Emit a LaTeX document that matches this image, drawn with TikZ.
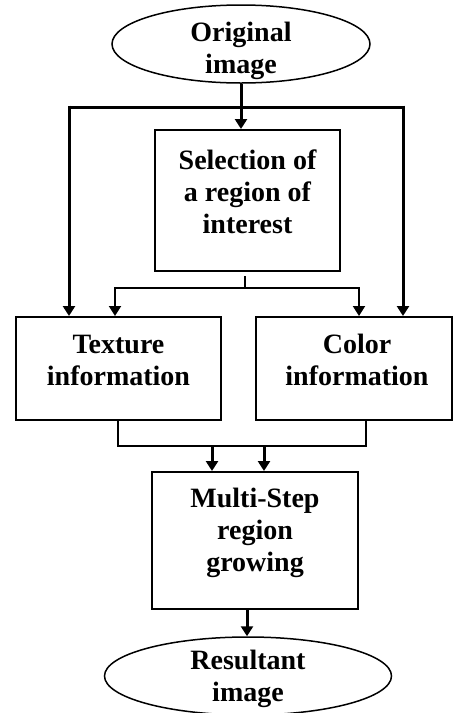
\documentclass[tikz,border=0pt]{standalone}
\usepackage{fontspec}
\setmainfont{Liberation Serif}
\usetikzlibrary{shapes.geometric,arrows.meta,calc}
\begin{document}
\begin{tikzpicture}[x=1pt,y=-1pt,
  txt/.style={font=\fontsize{28}{32}\selectfont\bfseries, align=center, inner sep=0pt},
  box/.style={draw, line width=2pt, rectangle, inner sep=0pt},
  oval/.style={draw, line width=1.5pt, ellipse, inner sep=0pt},
  thickarr/.style={line width=3pt, -{Triangle[width=12pt,length=10pt]}},
  thinarr/.style={line width=2pt, -{Triangle[width=12pt,length=10pt]}},
  conn/.style={line width=2pt},
  stem/.style={line width=1.5pt}]
\useasboundingbox (0,0) rectangle (453,713);

\node[oval, minimum width=258pt, minimum height=78pt] (orig) at (241,44) {};
\node[txt] (origt) at (241,51) {Original\\image};

\node[box, minimum width=185pt, minimum height=141pt] (sel) at (247.5,200.5) {};
\node[txt] (selt) at (247.5,192) {Selection of\\a region of\\interest};

\node[box, minimum width=205pt, minimum height=103pt] (tex) at (118.5,368.5) {};
\node[txt] (text) at (118.5,360) {Texture\\information};

\node[box, minimum width=196pt, minimum height=103pt] (col) at (354,368.5) {};
\node[txt] (colt) at (357,360) {Color\\information};

\node[box, minimum width=206pt, minimum height=137pt] (mul) at (255,540.5) {};
\node[txt] (mult) at (255,533) {Multi-Step\\region\\growing};

\node[oval, minimum width=287pt, minimum height=78pt] (res) at (248,676) {};
\node[txt] (rest) at (248,679) {Resultant\\image};

% top branch
\coordinate (tl) at (69,107);
\coordinate (tr) at (403,107);
\draw[thickarr] (orig.south) -- (orig.south |- sel.north);
\draw[line width=3pt] (tl) -- (tr);
\draw[thickarr] ([yshift=1.5pt]tl) -- (tl |- tex.north);
\draw[thickarr] ([yshift=1.5pt]tr) -- (tr |- col.north);

% selection split
\coordinate (s1) at (245,276);
\coordinate (s2) at (245,288);
\coordinate (bl) at (115,288);
\coordinate (br) at (359,288);
\draw[stem] (s1) -- (s2);
\draw[conn] (bl) -- (br);
\draw[thinarr] ([yshift=1pt]bl) -- (bl |- tex.north);
\draw[thinarr] ([yshift=1pt]br) -- (br |- col.north);

% merge
\coordinate (m1) at (118,446);
\coordinate (m2) at (366,446);
\coordinate (a1) at (212,446);
\coordinate (a2) at (264,446);
\draw[conn] (m1 |- tex.south) -- (m1) -- (m2) -- (m2 |- col.south);
\draw[thickarr] (a1) -- (a1 |- mul.north);
\draw[thickarr] (a2) -- (a2 |- mul.north);

% result
\draw[thickarr] (mul.south -| 247,0) -- (res.north -| 247,0);
\end{tikzpicture}
\end{document}
